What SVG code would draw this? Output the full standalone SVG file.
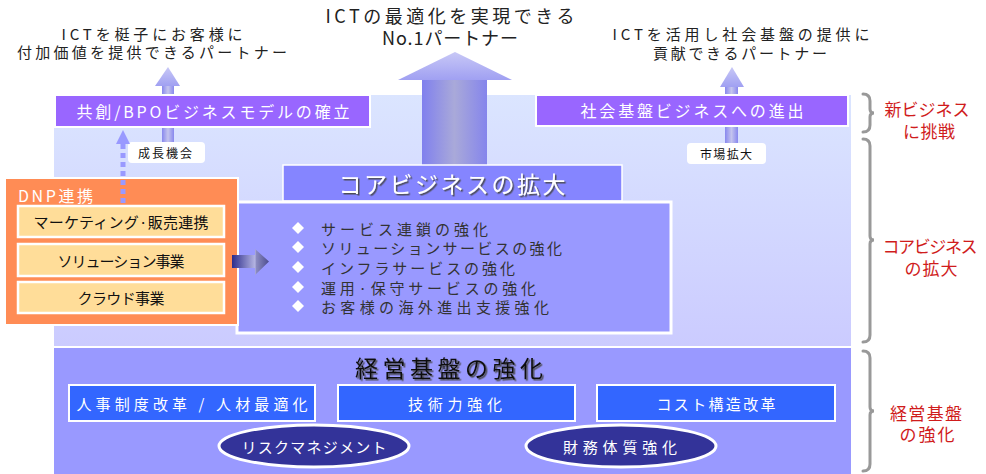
<svg xmlns="http://www.w3.org/2000/svg" width="986" height="474" viewBox="0 0 986 474">
<defs>
<linearGradient id="gPanel" x1="0" y1="0" x2="0" y2="1">
<stop offset="0" stop-color="#dbe5ff"/>
<stop offset="1" stop-color="#cbcbff"/>
</linearGradient>
<linearGradient id="gBig" x1="0" y1="0" x2="1" y2="0">
<stop offset="0" stop-color="#8080ee"/>
<stop offset="0.5" stop-color="#a9a9d9"/>
<stop offset="1" stop-color="#8585ec"/>
</linearGradient>
<linearGradient id="gHead" x1="0" y1="0" x2="0" y2="1">
<stop offset="0" stop-color="#c8c8f6"/>
<stop offset="1" stop-color="#a0a0f2"/>
</linearGradient>
<linearGradient id="gSmall" x1="0" y1="0" x2="1" y2="0">
<stop offset="0" stop-color="#8888ee"/>
<stop offset="0.5" stop-color="#c4c4ee"/>
<stop offset="1" stop-color="#8888ee"/>
</linearGradient>
<linearGradient id="gSide" x1="0" y1="0" x2="1" y2="0">
<stop offset="0" stop-color="#2c2c8c"/>
<stop offset="0.62" stop-color="#b4b4e2"/>
<stop offset="0.66" stop-color="#8a8ac0"/>
<stop offset="1" stop-color="#4d4d8f"/>
</linearGradient>
<filter id="sh" x="-5%" y="-20%" width="110%" height="140%">
<feDropShadow dx="1.5" dy="1.5" stdDeviation="0.3" flood-color="#444" flood-opacity="0.9"/>
</filter>
</defs>
<style>
text{font-family:"Noto Sans CJK JP","Noto Sans",sans-serif;dominant-baseline:central;text-anchor:middle}
.top{font-size:15px;fill:#222}
.mid{font-size:18px;fill:#222}
.pbox{fill:#9966ff;stroke:#fff;stroke-width:2}
.ptxt{font-size:16px;fill:#fff}
.lbl{fill:#fff}
.ltxt{font-size:12px;fill:#111}
.ybox{fill:#ffdd99;stroke:#fff;stroke-width:2.5}
.ytxt{font-size:15px;fill:#111}
.btxt{font-size:15px;fill:#333;text-anchor:start}
.dia{fill:#fff}
.bbox{fill:#3366ff;stroke:#fff;stroke-width:2}
.wtxt{font-size:15px;fill:#fff}
.ell{fill:#333399;stroke:#fff;stroke-width:3}
.red{font-size:17px;fill:#d01c1c}
.brace{fill:none;stroke:#999;stroke-width:3;stroke-linecap:round}
</style>
<rect x="0" y="0" width="986" height="474" fill="#fff"/>

<g id="panel-core">
<rect x="54" y="95" width="797" height="251" fill="url(#gPanel)"/>
</g>
<g id="panel-base">
<rect x="54" y="348" width="797" height="126" fill="#9999ff"/>
<text x="449" y="367" font-size="23" textLength="188" lengthAdjust="spacing" filter="url(#sh)" style="fill:#111">経営基盤の強化</text>
</g>

<g id="goal-left">
<text class="top" x="152" y="33" textLength="181" lengthAdjust="spacing">ICTを梃子にお客様に</text>
<text class="top" x="152" y="51" textLength="270" lengthAdjust="spacing">付加価値を提供できるパートナー</text>
</g>
<g id="goal-center">
<text class="mid" x="450" y="15" textLength="249" lengthAdjust="spacing">ICTの最適化を実現できる</text>
<text class="mid" x="450" y="37" textLength="136" lengthAdjust="spacing">No.1パートナー</text>
</g>
<g id="goal-right">
<text class="top" x="741" y="33" textLength="257" lengthAdjust="spacing">ICTを活用し社会基盤の提供に</text>
<text class="top" x="740" y="52" textLength="174" lengthAdjust="spacing">貢献できるパートナー</text>
</g>

<g id="connectors">
<rect x="422" y="80" width="65" height="85" fill="url(#gBig)"/>
<polygon points="398,80 455,52 512,80" fill="url(#gHead)"/>
<rect x="162" y="84" width="12" height="12" fill="url(#gSmall)"/>
<polygon points="155,86 168,67 180,86" fill="url(#gHead)"/>
<rect x="162" y="127" width="12" height="16" fill="url(#gSmall)"/>
<rect x="725" y="84" width="13" height="12" fill="url(#gSmall)"/>
<polygon points="720,87 732,67 744,87" fill="url(#gHead)"/>
<rect x="725" y="127" width="13" height="17" fill="url(#gSmall)"/>
</g>

<g id="box-bpo">
<rect class="pbox" x="55" y="95" width="315" height="32"/>
<text class="ptxt" x="213" y="111" textLength="273" lengthAdjust="spacing">共創/BPOビジネスモデルの確立</text>
</g>
<g id="box-social">
<rect class="pbox" x="536" y="95" width="312" height="31"/>
<text class="ptxt" x="692" y="110" textLength="223" lengthAdjust="spacing">社会基盤ビジネスへの進出</text>
</g>

<g id="label-growth">
<rect class="lbl" x="128" y="142" width="77" height="21" rx="4"/>
<text class="ltxt" x="165" y="152.5" textLength="54" lengthAdjust="spacing">成長機会</text>
</g>
<g id="label-market">
<rect class="lbl" x="687" y="143" width="79" height="21" rx="4"/>
<text class="ltxt" x="726" y="153.5" textLength="52" lengthAdjust="spacing">市場拡大</text>
</g>

<g id="core-header">
<rect x="283" y="165" width="339" height="36" fill="#8585ff" stroke="#fff" stroke-width="1.5"/>
<text x="452" y="183" font-size="23" fill="#fff" textLength="227" lengthAdjust="spacing" filter="url(#sh)">コアビジネスの拡大</text>
</g>

<g id="core-content">
<rect x="237" y="202" width="434" height="131" fill="#9999ff" stroke="#fff" stroke-width="3"/>
<polygon class="dia" points="298,222 304,228 298,234 292,228"/>
<polygon class="dia" points="298,241 304,247 298,253 292,247"/>
<polygon class="dia" points="298,261 304,267 298,273 292,267"/>
<polygon class="dia" points="298,281 304,287 298,293 292,287"/>
<polygon class="dia" points="298,300 304,306 298,312 292,306"/>
<text class="btxt" x="321" y="228" textLength="167" lengthAdjust="spacing">サービス連鎖の強化</text>
<text class="btxt" x="321" y="247" textLength="241" lengthAdjust="spacing">ソリューションサービスの強化</text>
<text class="btxt" x="321" y="267" textLength="194" lengthAdjust="spacing">インフラサービスの強化</text>
<text class="btxt" x="321" y="287" textLength="215" lengthAdjust="spacing">運用·保守サービスの強化</text>
<text class="btxt" x="321" y="306" textLength="228" lengthAdjust="spacing">お客様の海外進出支援強化</text>
</g>

<g id="dnp">
<rect x="5" y="178" width="233" height="147" fill="#ff8c55" stroke="#fff" stroke-width="2"/>
<text x="18" y="195" font-size="16" fill="#fff" style="text-anchor:start" textLength="75" lengthAdjust="spacing">DNP連携</text>
<rect class="ybox" x="18" y="206" width="206" height="31"/>
<text class="ytxt" x="121" y="221.5" textLength="175" lengthAdjust="spacing">マーケティング·販売連携</text>
<rect class="ybox" x="18" y="244" width="206" height="32"/>
<text class="ytxt" x="121" y="260" textLength="127" lengthAdjust="spacing">ソリューション事業</text>
<rect class="ybox" x="18" y="282" width="206" height="31"/>
<text class="ytxt" x="121" y="297.5" textLength="87" lengthAdjust="spacing">クラウド事業</text>
</g>

<g id="connectors-2">
<line x1="123" y1="144" x2="123" y2="205" stroke="#9999ff" stroke-width="5" stroke-dasharray="5 4"/>
<polygon points="116,144 123,130 130,144" fill="#9999ff"/>
<polygon points="232,255 255,255 255,249 269,261.5 255,275 255,268 232,268" fill="url(#gSide)"/>
</g>

<g id="box-hr">
<rect class="bbox" x="69" y="385" width="246" height="36"/>
<text class="wtxt" x="192" y="403" textLength="231" lengthAdjust="spacing">人事制度改革 / 人材最適化</text>
</g>
<g id="box-tech">
<rect class="bbox" x="338" y="385" width="237" height="36"/>
<text class="wtxt" x="455" y="403" textLength="94" lengthAdjust="spacing">技術力強化</text>
</g>
<g id="box-cost">
<rect class="bbox" x="597" y="385" width="238" height="36"/>
<text class="wtxt" x="716" y="403" textLength="119" lengthAdjust="spacing">コスト構造改革</text>
</g>
<g id="ell-risk">
<ellipse class="ell" cx="314" cy="446" rx="95" ry="21"/>
<text class="wtxt" x="314" y="446" textLength="145" lengthAdjust="spacing">リスクマネジメント</text>
</g>
<g id="ell-finance">
<ellipse class="ell" cx="621" cy="446" rx="95" ry="21"/>
<text class="wtxt" x="620" y="446" textLength="114" lengthAdjust="spacing">財務体質強化</text>
</g>

<g id="braces">
<path class="brace" d="M863,94 Q870,94 870,101 V109 Q870,113 874,113 Q870,113 870,117 V125 Q870,132 863,132"/>
<path class="brace" d="M863,139 Q870,139 870,146 V236 Q870,240 874,240 Q870,240 870,244 V335 Q870,342 863,342"/>
<path class="brace" d="M863,351 Q870,351 870,358 V407 Q870,411 874,411 Q870,411 870,415 V464 Q870,471 863,471"/>
</g>
<g id="labels-right">
<text class="red" x="927" y="108" textLength="85" lengthAdjust="spacing">新ビジネス</text>
<text class="red" x="929" y="130" textLength="52" lengthAdjust="spacing">に挑戦</text>
<text class="red" x="930" y="245" textLength="95" lengthAdjust="spacing">コアビジネス</text>
<text class="red" x="931" y="267" textLength="53" lengthAdjust="spacing">の拡大</text>
<text class="red" x="926" y="412" textLength="72" lengthAdjust="spacing">経営基盤</text>
<text class="red" x="927" y="433" textLength="55" lengthAdjust="spacing">の強化</text>
</g>
</svg>
